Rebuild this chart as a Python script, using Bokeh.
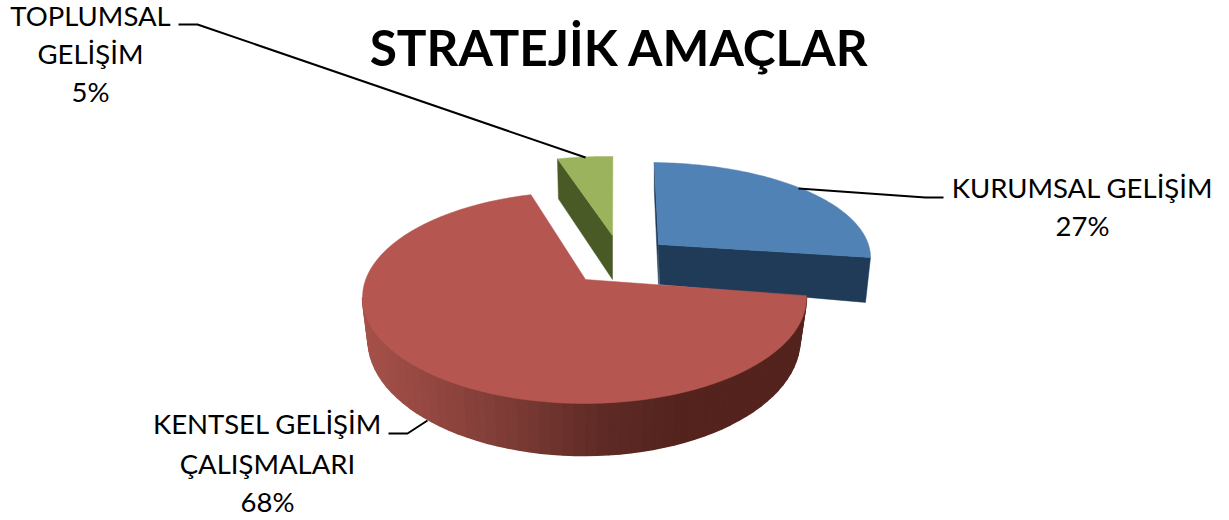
import numpy as np
from bokeh.plotting import figure
from bokeh.models import Range1d
from bokeh.core.properties import value
from bokeh.embed import file_html
from bokeh.resources import INLINE

title_text = "STRATEJİK AMAÇLAR"
categories = ["KURUMSAL GELİŞİM", "KENTSEL GELİŞİM\nÇALIŞMALARI", "TOPLUMSAL\nGELİŞİM"]
shares = [27, 68, 5]
top_colors = ["#5082b5", "#b55750", "#9bb35c"]
side_colors = ["#1f3b58", "#55231e", "#4a5a26"]

FONT = "Lato"
W, H = 1229, 520
p = figure(width=W, height=H, x_range=Range1d(0, W), y_range=Range1d(H, 0),
           output_backend="svg", toolbar_location=None, min_border=0,
           background_fill_color="white", outline_line_color=None)
p.axis.visible = False
p.grid.visible = False


def arc(cx, cy, rx, ry, t0, t1, n=90):
    t = np.radians(np.linspace(t0, t1, n))
    return cx + rx * np.cos(t), cy - ry * np.sin(t)


def slice_angles(share, start, scale):
    return start, start - share / sum(shares) * 360 * scale


# one exploded wedge per share: ellipse (cx, cy, rx, ry), apex, start angle, perspective factor
layout = [
    dict(e=(648, 257, 222, 95), apex=(658, 244), start=88.5, scale=0.91),
    dict(e=(584, 297, 222, 106), apex=(585, 279), start=1, scale=1.05),
    dict(e=(605, 256, 222, 100), apex=(612, 235), start=102.5, scale=0.8),
]
angles = [slice_angles(s, l["start"], l["scale"]) for s, l in zip(shares, layout)]


def surface(i):
    l = layout[i]
    ax, ay = arc(*l["e"], *angles[i])
    return np.r_[l["apex"][0], ax], np.r_[l["apex"][1], ay], ax, ay


DEPTH_GREEN = 44

# green wedge
gx, gy, gax, gay = surface(2)
p.patch([gax[0], gx[0], gx[0], gax[0] + 1], [gay[0], gy[0], gy[0] + DEPTH_GREEN, gay[0] + 40],
        fill_color=side_colors[2], line_color=side_colors[2], line_width=0.5)
p.patch(gx, gy, fill_color=top_colors[2], line_color=top_colors[2], line_width=0.5)

# blue wedge
bx, by, bax, bay = surface(0)
p.patch([bax[0], bx[0], bx[0], bax[0]], [bay[0], by[0], by[0] + 40, bay[0] + 28],
        fill_color=side_colors[0], line_color=side_colors[0], line_width=0.5)
p.patch([bx[0], bax[-1], bax[-1] - 5, bx[0] + 1], [by[0], bay[-1], bay[-1] + 45, by[0] + 40],
        fill_color=side_colors[0], line_color=side_colors[0], line_width=0.5)
p.patch(bx, by, fill_color=top_colors[0], line_color=top_colors[0], line_width=0.5)

# red wall, shaded from left to right
rx, ry, _, _ = surface(1)
e_top = layout[1]["e"]
e_bot = (583.5, 339, 216, 116)
N = 60
tx, ty = arc(*e_top, -180, 1, N + 1)
ux, uy = arc(*e_bot, -180, 1, N + 1)
shade_x = [362, 440, 520, 600, 680, 806]
shade_r = [166, 145, 122, 96, 84, 85]
shade_g = [82, 70, 58, 43, 36, 35]
shade_b = [74, 63, 52, 38, 31, 30]
xs, ys, cols = [], [], []
for i in range(N):
    xs.append([tx[i], tx[i + 1], ux[i + 1], ux[i]])
    ys.append([ty[i], ty[i + 1], uy[i + 1], uy[i]])
    m = (tx[i] + tx[i + 1]) / 2
    cols.append("#%02x%02x%02x" % (int(np.interp(m, shade_x, shade_r)),
                                   int(np.interp(m, shade_x, shade_g)),
                                   int(np.interp(m, shade_x, shade_b))))
p.patches(xs, ys, fill_color=cols, line_color=cols, line_width=1.5)
p.patch(rx, ry, fill_color=top_colors[1], line_color=top_colors[1], line_width=0.5)

# leaders
p.line([178, 197, 585], [24, 24, 157], line_color="#000000", line_width=2)
p.line([798, 925, 943], [188, 197, 197], line_color="#000000", line_width=2)
p.line([388, 407, 427], [433, 433, 420], line_color="#000000", line_width=2)

# texts
p.text([619], [46], text=[title_text], text_font=value(FONT), text_font_style="bold",
       text_font_size="49.6px", text_color="#000000", text_align="center", text_baseline="middle")

anchors = [(1082, [187, 225]), (267, [423, 463, 501]), (90, [15, 53, 91])]
lx, ly, lt = [], [], []
for cat, s, (ax_, ys_) in zip(categories, shares, anchors):
    for line, yy in zip(cat.split("\n") + [f"{s}%"], ys_):
        lx.append(ax_); ly.append(yy); lt.append(line)
p.text(lx, ly, text=lt, text_font=value(FONT), text_font_size="27.5px", text_color="#000000",
       text_align="center", text_baseline="middle")

open("out.html", "w").write(file_html(p, INLINE))
